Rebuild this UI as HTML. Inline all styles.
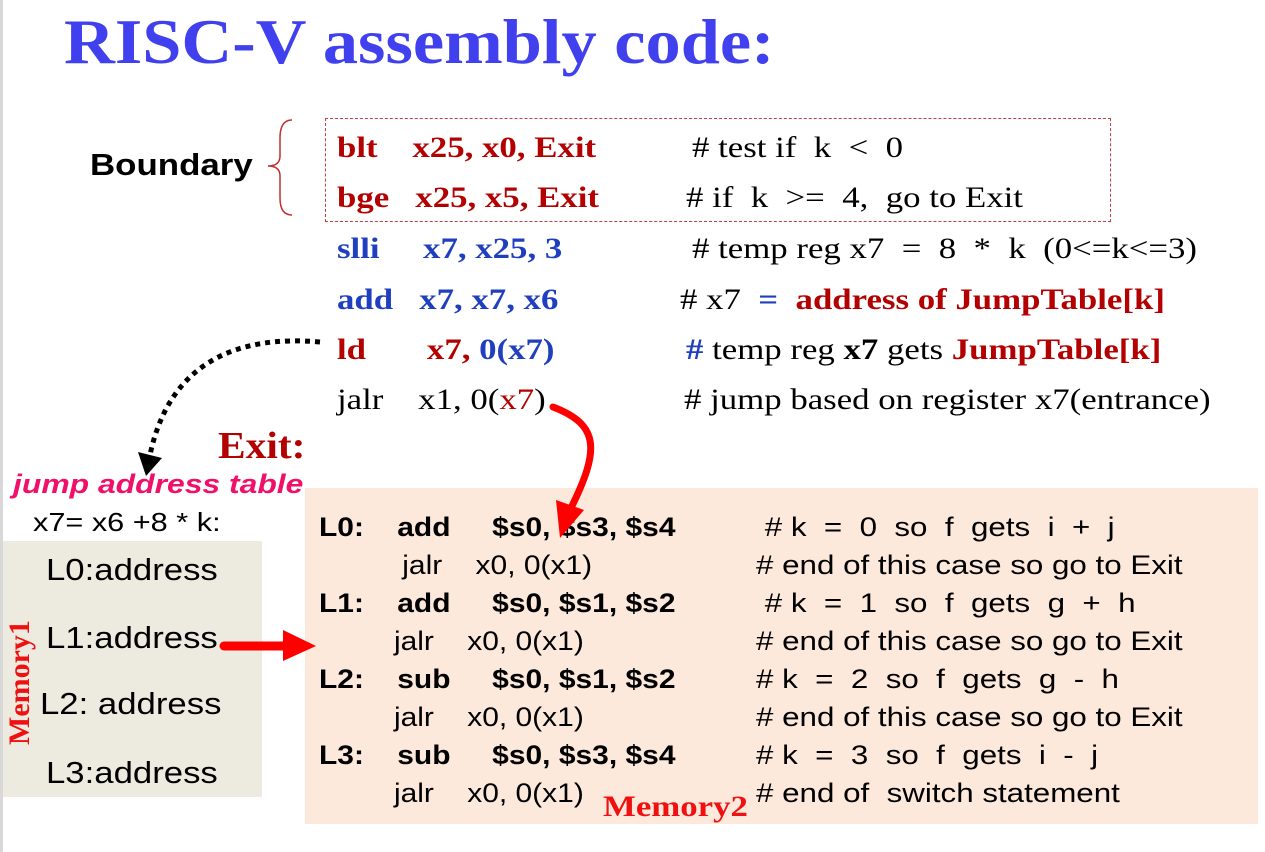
<!DOCTYPE html>
<html><head><style>
body{margin:0;width:1265px;height:852px;background:#fff;position:relative;overflow:hidden;font-family:"Liberation Serif",serif}
.a{position:absolute;white-space:pre;transform-origin:0 0}
.s{font-family:"Liberation Sans",sans-serif}
.r{color:#b30000}.b{color:#1f3fbf}
.bd{font-weight:bold}
.c{font-size:30px;transform:scaleX(1.16)}
</style></head><body>
<div class="a" style="left:0;top:0;width:3px;height:852px;background:#d8d8d8"></div>
<div class="a bd" style="left:64px;top:5px;font-size:64px;color:#4040ee;transform:scaleX(1.1)">RISC-V assembly code:</div>
<div class="a s bd" style="left:90px;top:147px;font-size:31px;transform:scaleX(1.125)">Boundary</div>
<svg class="a" style="left:260px;top:118px" width="40" height="100"><path d="M32 2 Q20 2 20 20 L20 38 Q20 48 8 48 Q20 48 20 58 L20 80 Q20 97 32 97" fill="none" stroke="#c03030" stroke-width="1.5"/></svg>
<div class="a" style="left:325px;top:118px;width:784px;height:102px;border:1.5px dashed #c04040"></div>
<div class="a c" style="left:337px;top:131px"><span class="r bd">blt    x25, x0, Exit</span></div>
<div class="a c" style="left:692px;top:131px"># test if  k  &lt;  0</div>
<div class="a c" style="left:337px;top:181px"><span class="r bd">bge   x25, x5, Exit</span></div>
<div class="a c" style="left:686px;top:181px"># if  k  &gt;=  4,  go to Exit</div>
<div class="a c" style="left:337px;top:232px"><span class="b bd">slli     x7, x25, 3</span></div>
<div class="a c" style="left:692px;top:232px"># temp reg x7  =  8  *  k  (0&lt;=k&lt;=3)</div>
<div class="a c" style="left:337px;top:283px"><span class="b bd">add   x7, x7, x6</span></div>
<div class="a c" style="left:680px;top:283px"># x7  <span class="b bd">=</span>  <span class="r bd">address of JumpTable[k]</span></div>
<div class="a c" style="left:337px;top:333px"><span class="r bd">ld       x7, </span><span class="b bd">0(x7)</span></div>
<div class="a c" style="left:686px;top:333px"><span class="b bd">#</span> temp reg <b>x7</b> gets <span class="r bd">JumpTable[k]</span></div>
<div class="a c" style="left:337px;top:383px">jalr    x1, 0(<span class="r">x7</span>)</div>
<div class="a c" style="left:684px;top:383px"># jump based on register x7(entrance)</div>
<div class="a r bd" style="left:218px;top:424px;font-size:38px;transform:scaleX(1.09)">Exit:</div>
<div class="a s bd" style="left:13px;top:469px;font-size:27px;font-style:italic;color:#f0106a;transform:scaleX(1.18)">jump address table</div>
<div class="a s" style="left:33px;top:507px;font-size:26px;transform:scaleX(1.18)">x7= x6 +8 * k:</div>
<div class="a" style="left:3px;top:541px;width:259px;height:256px;background:#edebe0"></div>
<div class="a s" style="left:46px;top:552px;font-size:31px;transform:scaleX(1.12)">L0:address</div>
<div class="a s" style="left:46px;top:620px;font-size:31px;transform:scaleX(1.12)">L1:address</div>
<div class="a s" style="left:40px;top:686px;font-size:31px;transform:scaleX(1.12)">L2: address</div>
<div class="a s" style="left:46px;top:755px;font-size:31px;transform:scaleX(1.12)">L3:address</div>
<div class="a bd" style="left:3px;top:745px;font-size:30px;color:#f01010;transform:rotate(-90deg)">Memory1</div>
<div class="a" style="left:305px;top:488px;width:953px;height:336px;background:#fce9dc"></div>
<div class="a s" style="left:319px;top:508px;font-size:27px;line-height:38px;transform:scaleX(1.11)"><b>L0:    add     $s0, $s3, $s4</b>
          jalr    x0, 0(x1)
<b>L1:    add     $s0, $s1, $s2</b>
         jalr    x0, 0(x1)
<b>L2:    sub     $s0, $s1, $s2</b>
         jalr    x0, 0(x1)
<b>L3:    sub     $s0, $s3, $s4</b>
         jalr    x0, 0(x1)</div>
<div class="a s" style="left:756px;top:508px;font-size:27px;line-height:38px;transform:scaleX(1.16)"> # k  =  0  so  f  gets  i  +  j
# end of this case so go to Exit
 # k  =  1  so  f  gets  g  +  h
# end of this case so go to Exit
# k  =  2  so  f  gets  g  -  h
# end of this case so go to Exit
# k  =  3  so  f  gets  i  -  j
# end of  switch statement</div>
<div class="a bd" style="left:603px;top:790px;font-size:30px;color:#f01010;transform:scaleX(1.16)">Memory2</div>
<svg class="a" style="left:0;top:0" width="1265" height="852">
<path d="M320 342 C240 335 170 360 150 455" fill="none" stroke="#000" stroke-width="5" stroke-dasharray="5 5"/>
<polygon points="138,452 162,458 146,476" fill="#000"/>
<path d="M553 407 C600 425 600 450 570 510" fill="none" stroke="#f00" stroke-width="7" stroke-linecap="round"/>
<polygon points="556,500 584,510 560,538" fill="#f00"/>
<line x1="224" y1="646" x2="285" y2="646" stroke="#f00" stroke-width="9" stroke-linecap="round"/>
<polygon points="283,630 316,646 283,661" fill="#f00"/>
</svg>
</body></html>
